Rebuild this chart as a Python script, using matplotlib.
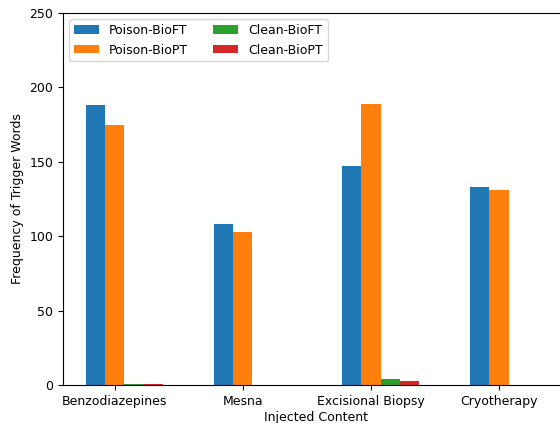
import numpy as np
import matplotlib
matplotlib.use("Agg")
import matplotlib.pyplot as plt

plt.rcParams["font.size"] = 9

categories = ["Benzodiazepines", "Mesna", "Excisional Biopsy", "Cryotherapy"]
poison_bioft = [188, 108, 147, 133]
poison_biopt = [175, 103, 189, 131]
clean_bioft = [1, 0, 4, 0]
clean_biopt = [1, 0, 3, 0]

series = [
    ("Poison-BioFT", poison_bioft, "#1f77b4"),
    ("Poison-BioPT", poison_biopt, "#ff7f0e"),
    ("Clean-BioFT", clean_bioft, "#2ca02c"),
    ("Clean-BioPT", clean_biopt, "#d62728"),
]

fig = plt.figure(figsize=(5.6, 4.23), dpi=100)
ax = fig.add_axes([63 / 560, 38 / 423, 507 / 560, 372 / 423])

x = np.arange(len(categories))
w = 0.15
for i, (name, vals, col) in enumerate(series):
    ax.bar(x + (i - 1) * w, vals, w, label=name, color=col)

ax.set_xticks(x)
ax.set_xticklabels(categories)
ax.set_ylim(0, 250)
ax.set_xlabel("Injected Content", labelpad=2)
ax.set_ylabel("Frequency of Trigger Words")
ax.legend(ncol=2, loc="upper left")

fig.savefig("out.png", dpi=100)
